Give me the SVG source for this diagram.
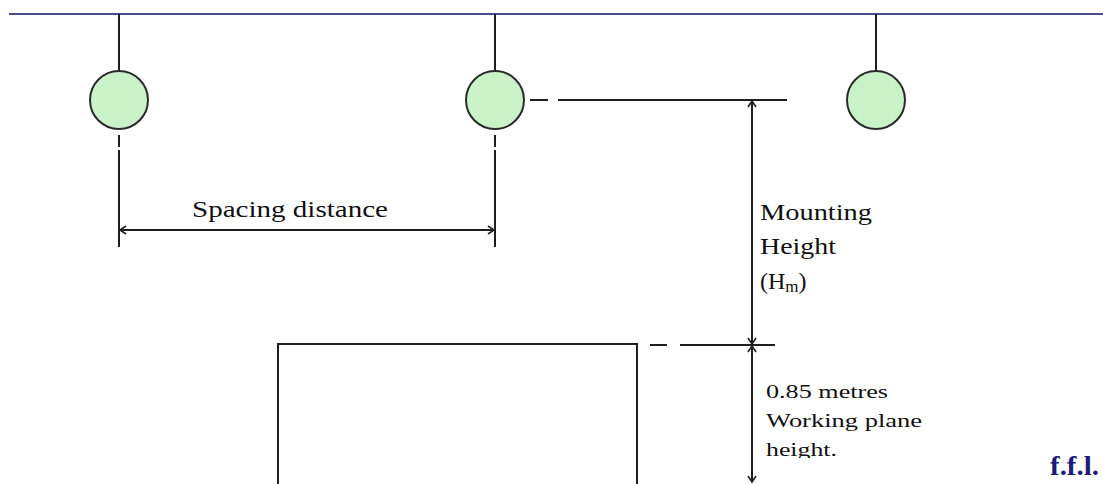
<svg xmlns="http://www.w3.org/2000/svg" width="1103" height="484" viewBox="0 0 1103 484">
  <style>
    .ln { stroke: #1e1e1e; stroke-width: 2; fill: none; }
    .lamp { fill: #c9f2c9; stroke: #2a2a2a; stroke-width: 2; }
    .txt { font-family: "Liberation Serif", "Times New Roman", serif; fill: #111; }
    .big { font-size: 24px; }
    .small { font-size: 19px; }
    .ffl { font-family: "Liberation Serif", "Times New Roman", serif; font-weight: bold; font-size: 28px; fill: #1c1c78; }
  </style>
  <defs>
    <marker id="arr" markerWidth="10" markerHeight="10" refX="8" refY="5" orient="auto-start-reverse" markerUnits="userSpaceOnUse">
      <path d="M2,1 L8,5 L2,9" fill="none" stroke="#1e1e1e" stroke-width="1.6"/>
    </marker>
    <clipPath id="clipH">
      <rect x="740" y="430" width="200" height="28"/>
    </clipPath>
  </defs>
  <rect width="1103" height="484" fill="#ffffff"/>

  <g id="ceiling">
    <line x1="9" y1="14" x2="1103" y2="14" stroke="#4b4b8e" stroke-width="2.2"/>
  </g>

  <g id="lamp1">
    <line class="ln" x1="119" y1="14" x2="119" y2="71"/>
    <circle class="lamp" cx="119" cy="100" r="29"/>
  </g>
  <g id="lamp2">
    <line class="ln" x1="495" y1="14" x2="495" y2="71"/>
    <circle class="lamp" cx="495" cy="100" r="29"/>
  </g>
  <g id="lamp3">
    <line class="ln" x1="876" y1="14" x2="876" y2="71"/>
    <circle class="lamp" cx="876" cy="100" r="29"/>
  </g>

  <g id="workbench">
    <rect class="ln" x="278" y="344" width="359" height="150"/>
  </g>

  <g id="connectors">
    <line class="ln" x1="119" y1="135" x2="119" y2="147"/>
    <line class="ln" x1="119" y1="150" x2="119" y2="247"/>
    <line class="ln" x1="495" y1="135" x2="495" y2="147"/>
    <line class="ln" x1="495" y1="150" x2="495" y2="247"/>
    <line class="ln" x1="120" y1="230" x2="494" y2="230" marker-start="url(#arr)" marker-end="url(#arr)"/>
    <line class="ln" x1="530" y1="100" x2="548" y2="100"/>
    <line class="ln" x1="558" y1="100" x2="787" y2="100"/>
    <line class="ln" x1="650" y1="345" x2="667" y2="345"/>
    <line class="ln" x1="680" y1="345" x2="775" y2="345"/>
    <line class="ln" x1="752" y1="101" x2="752" y2="344" marker-start="url(#arr)" marker-end="url(#arr)"/>
    <line class="ln" x1="752" y1="346" x2="752" y2="482" marker-start="url(#arr)" marker-end="url(#arr)"/>
  </g>

  <g id="labels">
    <text class="txt big" x="192" y="217" textLength="196" lengthAdjust="spacingAndGlyphs">Spacing distance</text>
    <text class="txt big" x="760" y="220" textLength="112" lengthAdjust="spacingAndGlyphs">Mounting</text>
    <text class="txt big" x="760" y="254" textLength="76" lengthAdjust="spacingAndGlyphs">Height</text>
    <text class="txt big" x="760" y="289">(H<tspan font-size="17" dy="3">m</tspan><tspan dy="-3">)</tspan></text>
    <text class="txt small" x="766" y="398" textLength="122" lengthAdjust="spacingAndGlyphs">0.85  metres</text>
    <text class="txt small" x="766" y="427" textLength="156" lengthAdjust="spacingAndGlyphs">Working plane</text>
    <text class="txt small" x="766" y="456" textLength="71" lengthAdjust="spacingAndGlyphs" clip-path="url(#clipH)">height.</text>
    <text class="ffl" x="1050" y="475" textLength="49" lengthAdjust="spacingAndGlyphs">f.f.l.</text>
  </g>
</svg>
